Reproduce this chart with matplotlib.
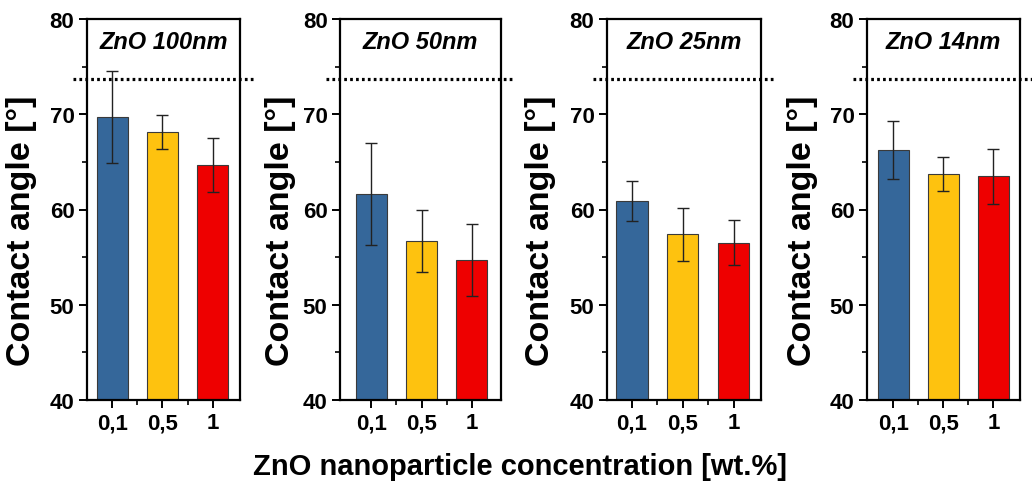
import matplotlib
matplotlib.use("Agg")
import matplotlib.pyplot as plt
from matplotlib.ticker import MultipleLocator, FixedLocator
import matplotlib.transforms as mtransforms

plt.rcParams['font.family'] = ['Liberation Sans', 'DejaVu Sans']

# ---- data ----
categories = ["0,1", "0,5", "1"]
panel_titles = ["ZnO 100nm", "ZnO 50nm", "ZnO 25nm", "ZnO 14nm"]
values_100 = [69.7, 68.1, 64.7]
errors_100 = [4.8, 1.8, 2.85]
values_50 = [61.6, 56.7, 54.7]
errors_50 = [5.35, 3.25, 3.75]
values_25 = [60.85, 57.4, 56.5]
errors_25 = [2.1, 2.8, 2.35]
values_14 = [66.2, 63.75, 63.5]
errors_14 = [3.05, 1.8, 2.9]
reference_angle = 73.7
bar_colors = ["#35679A", "#FEC20F", "#EE0000"]

all_values = [values_100, values_50, values_25, values_14]
all_errors = [errors_100, errors_50, errors_25, errors_14]

W, H = 1032, 485
fig = plt.figure(figsize=(W / 100, H / 100), dpi=100)

# panel pixel geometry: (left, right), xlim, ylabel center x
panel_px = [(87, 240), (340, 501), (607, 761), (867, 1020)]
panel_xlim = [(-0.5, 2.54), (-0.62, 2.58), (-0.49, 2.54), (-0.52, 2.53)]
ylabel_x = [22, 280, 541, 803]
top_px, bot_px = 20, 401

for i in range(4):
    l, r = panel_px[i]
    ax = fig.add_axes([l / W, 1 - bot_px / H, (r - l) / W, (bot_px - top_px) / H])
    x = list(range(len(categories)))
    ax.bar(x, all_values[i], width=0.62, color=bar_colors,
           edgecolor="#3a3a3a", linewidth=0.8, zorder=2)
    ax.errorbar(x, all_values[i], yerr=all_errors[i], fmt="none",
                ecolor="#222222", elinewidth=1.0, capsize=4.5, capthick=1.0, zorder=3)
    trans = mtransforms.blended_transform_factory(ax.transAxes, ax.transData)
    ax.plot([-0.09, 1.09], [reference_angle, reference_angle], transform=trans,
            color="black", linewidth=2.3, linestyle=(0, (0.85, 1.0)),
            dash_capstyle="butt", clip_on=False, zorder=4)
    ax.set_xlim(*panel_xlim[i])
    ax.set_ylim(40, 80)
    ax.set_xticks(x)
    ax.set_xticklabels(categories)
    ax.xaxis.set_minor_locator(FixedLocator([0.5, 1.5]))
    ax.yaxis.set_major_locator(MultipleLocator(10))
    ax.yaxis.set_minor_locator(MultipleLocator(5))
    ax.tick_params(axis="both", which="major", direction="out", length=6, width=1.4,
                   labelsize=16, pad=3)
    ax.tick_params(axis="both", which="minor", direction="out", length=3.5, width=1.2)
    for lab in ax.get_xticklabels() + ax.get_yticklabels():
        lab.set_fontweight("bold")
    for sp in ax.spines.values():
        sp.set_linewidth(1.6)
    ax.text(0.5, 0.942, panel_titles[i], transform=ax.transAxes, ha="center",
            va="center", fontsize=17, fontweight="bold", fontstyle="italic")
    fig.text(ylabel_x[i] / W, 1 - 231 / H, "Contact angle [°]", rotation=90,
             ha="center", va="center", fontsize=24.5, fontweight="bold")

fig.text(520 / W, 1 - 467 / H, "ZnO nanoparticle concentration [wt.%]",
         ha="center", va="center", fontsize=21, fontweight="bold")

fig.savefig("out.png", dpi=100)
